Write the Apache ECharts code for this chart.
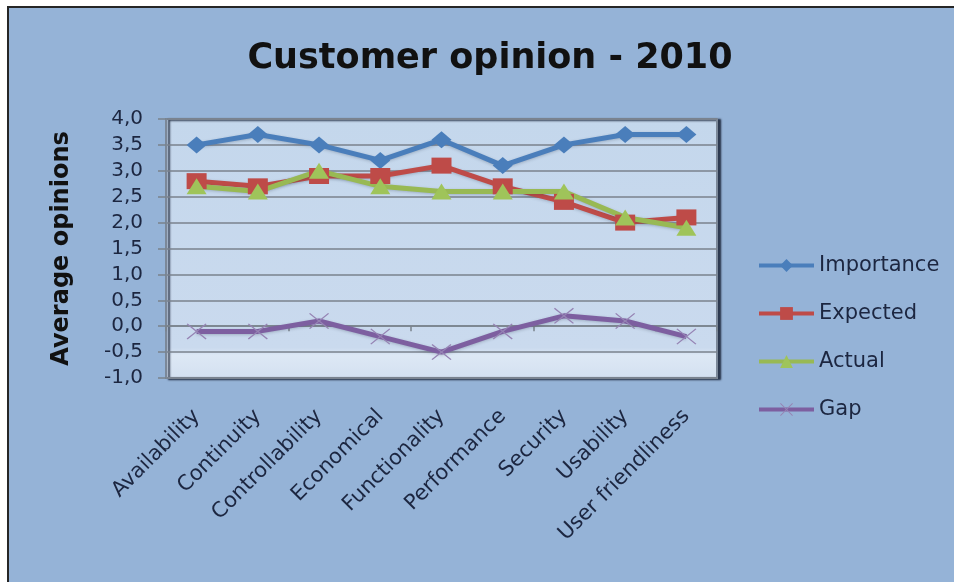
<!DOCTYPE html>
<html>
<head>
<meta charset="utf-8">
<title>Customer opinion - 2010</title>
<script src="https://cdn.jsdelivr.net/npm/echarts@6/dist/echarts.min.js"></script>
<style>
  html, body { margin: 0; padding: 0; background: #ffffff; }
  #chart { position: absolute; left: 0; top: 0; width: 954px; height: 582px; }
</style>
</head>
<body>
<div id="chart"></div>
<script>
// Survey categories and the four measured series (average opinion per category)
const categories = ['Availability', 'Continuity', 'Controllability', 'Economical', 'Functionality',
                    'Performance', 'Security', 'Usability', 'User friendliness'];
const importance = [3.5, 3.7, 3.5, 3.2, 3.6, 3.1, 3.5, 3.7, 3.7];
const expected   = [2.8, 2.7, 2.9, 2.9, 3.1, 2.7, 2.4, 2.0, 2.1];
const actual     = [2.7, 2.6, 3.0, 2.7, 2.6, 2.6, 2.6, 2.1, 1.9];
const gap        = [-0.1, -0.1, 0.1, -0.2, -0.5, -0.1, 0.2, 0.1, -0.2];

// Value axis range and step
const yMin = -1.0;
const yMax = 4.0;
const yStep = 0.5;

const FONT = '"DejaVu Sans", sans-serif';
const TEXT_DARK = '#1c2640';

// Thin "x" cross marker
const crossPath = 'path://M0,1L1,0L10,9L19,0L20,1L11,10L20,19L19,20L10,11L1,20L0,19L9,10Z';

const chart = echarts.init(document.getElementById('chart'), null, { renderer: 'canvas' });

function lineSeries(name, data, color, symbol, symbolSize, symbolColor) {
  return {
    name: name,
    type: 'line',
    data: data,
    symbol: symbol,
    symbolSize: symbolSize,
    showSymbol: true,
    lineStyle: { color: color, width: 5, shadowColor: 'rgba(40,50,70,0.25)', shadowBlur: 3, shadowOffsetY: 1 },
    itemStyle: { color: symbolColor || color, borderWidth: 0 },
    emphasis: { disabled: true },
    animation: false
  };
}

chart.setOption({
  backgroundColor: '#ffffff',
  animation: false,
  graphic: [{
    type: 'rect',
    z: -10,
    silent: true,
    shape: { x: 8, y: 7, width: 960, height: 600 },
    style: { fill: '#95b3d7', stroke: '#262626', lineWidth: 2 }
  }],
  title: {
    text: 'Customer opinion - 2010',
    left: 485,
    top: 36,
    textAlign: 'center',
    textStyle: { fontFamily: FONT, fontSize: 35, fontWeight: 'bold', color: '#111111' }
  },
  legend: {
    orient: 'vertical',
    left: 752,
    top: 250,
    itemWidth: 55,
    itemHeight: 16,
    itemGap: 27,
    selectedMode: false,
    lineStyle: { width: 4 },
    textStyle: { fontFamily: FONT, fontSize: 21, color: TEXT_DARK },
    data: ['Importance', 'Expected', 'Actual', 'Gap']
  },
  grid: {
    left: 166,
    right: 237,
    top: 119,
    bottom: 204,
    containLabel: false,
    outerBoundsMode: 'none',
    show: true,
    borderColor: '#7b8899',
    borderWidth: 2,
    shadowColor: 'rgba(25,35,55,0.85)',
    shadowBlur: 2,
    shadowOffsetX: 3,
    shadowOffsetY: 1,
    backgroundColor: {
      type: 'linear', x: 0, y: 0, x2: 0, y2: 1,
      colorStops: [
        { offset: 0, color: '#c4d7ec' },
        { offset: 0.88, color: '#cadaee' },
        { offset: 0.91, color: '#dde8f5' },
        { offset: 1, color: '#d3e0f0' }
      ]
    }
  },
  xAxis: [{
    type: 'category',
    data: categories,
    boundaryGap: true,
    axisLine: { show: false, onZero: false },
    axisTick: { show: false },
    splitLine: { show: false },
    axisLabel: {
      rotate: 45,
      margin: 35,
      interval: 0,
      fontFamily: FONT,
      fontSize: 21,
      color: TEXT_DARK
    }
  }, {
    // category axis crossing the value axis at zero
    type: 'category',
    data: categories,
    boundaryGap: true,
    position: 'bottom',
    axisLine: { show: true, onZero: true, lineStyle: { color: '#7a828c', width: 1.5 } },
    axisTick: { show: true, length: 5, inside: false, lineStyle: { color: '#7a828c', width: 1.5 } },
    axisLabel: { show: false },
    splitLine: { show: false }
  }],
  yAxis: {
    type: 'value',
    min: yMin,
    max: yMax,
    interval: yStep,
    name: 'Average opinions',
    nameLocation: 'middle',
    nameGap: 92,
    nameRotate: 90,
    nameTextStyle: { fontFamily: FONT, fontSize: 24, fontWeight: 'bold', color: '#111111' },
    axisLine: { show: true, lineStyle: { color: '#7b8899', width: 2 } },
    axisTick: { show: true, length: 8, lineStyle: { color: '#7a828c', width: 1.5 } },
    splitLine: { show: true, lineStyle: { color: '#7a828c', width: 1.5 } },
    axisLabel: {
      margin: 23,
      fontFamily: FONT,
      fontSize: 20,
      color: TEXT_DARK,
      formatter: v => v.toFixed(1).replace('.', ',')
    }
  },
  series: [
    lineSeries('Importance', importance, '#4a7ebb', 'diamond', [20, 17]),
    lineSeries('Expected', expected, '#be4b48', 'rect', [20, 16]),
    lineSeries('Actual', actual, '#98b954', 'triangle', [20, 16], '#9fc45a'),
    lineSeries('Gap', gap, '#7d5fa0', crossPath, [20, 16], '#9684b4')
  ]
});
</script>
</body>
</html>
